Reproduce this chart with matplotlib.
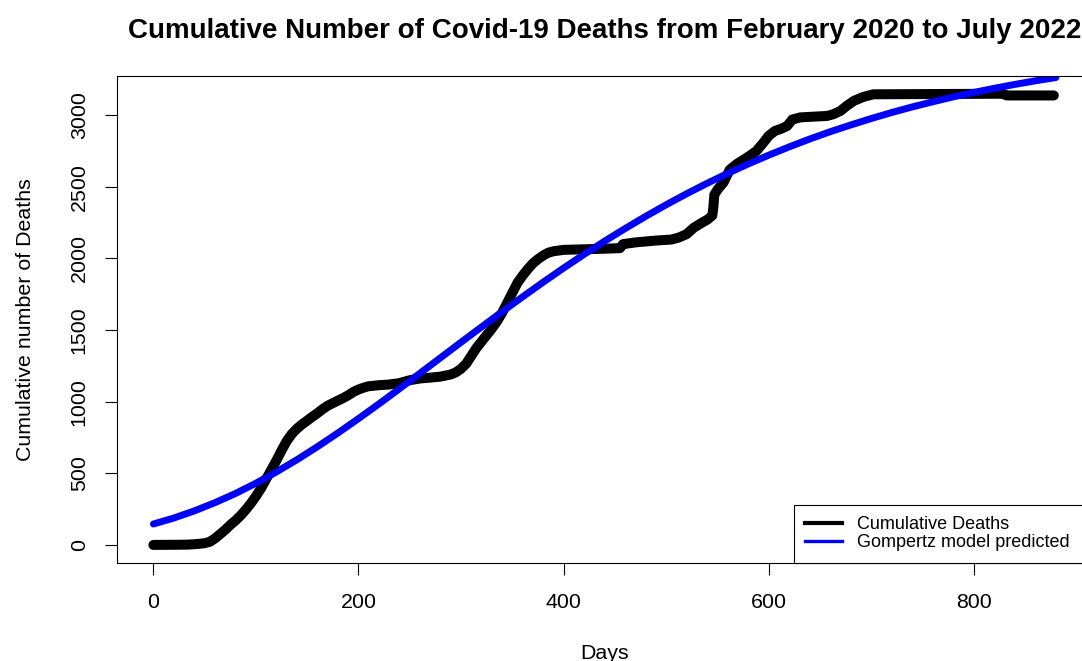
import matplotlib.pyplot as plt
from matplotlib.lines import Line2D

plt.rcParams['font.family'] = ['Liberation Sans', 'DejaVu Sans']

# observed cumulative deaths (day since first case, deaths)
days = [0, 20, 33, 40, 45, 50, 55, 60, 65, 70, 75, 80, 85, 90, 95, 100, 105,
        110, 115, 120, 125, 130, 135, 140, 145, 150, 155, 160, 165, 170, 175,
        180, 185, 190, 195, 200, 205, 210, 220, 230, 240, 250, 260, 270, 280,
        290, 295, 300, 305, 310, 315, 320, 325, 330, 335, 340, 345, 350, 355,
        360, 365, 370, 375, 380, 385, 390, 400, 420, 440, 455, 458, 470, 490,
        505, 512, 520, 527, 535, 540, 545, 546, 547, 550, 556, 562, 569, 579,
        588, 595, 600, 606, 612, 618, 623, 631, 657, 663, 670, 676, 683, 692,
        702, 828, 832, 878]
deaths = [0, 1, 2, 5, 8, 12, 22, 45, 75, 105, 140, 170, 205, 245, 290, 340, 395,
          460, 525, 590, 660, 725, 775, 812, 842, 868, 895, 920, 948, 972, 990,
          1008, 1025, 1045, 1068, 1085, 1098, 1108, 1115, 1120, 1130, 1150, 1162,
          1168, 1175, 1190, 1205, 1230, 1265, 1320, 1375, 1420, 1465, 1510, 1560,
          1620, 1690, 1760, 1830, 1880, 1925, 1965, 1995, 2020, 2040, 2050, 2060,
          2064, 2068, 2072, 2100, 2112, 2125, 2132, 2145, 2170, 2215, 2250, 2270,
          2300, 2357, 2445, 2480, 2531, 2620, 2660, 2705, 2750, 2810, 2856, 2890,
          2905, 2925, 2970, 2985, 2995, 3007, 3030, 3065, 3100, 3127, 3146, 3150,
          3138, 3138]

# Gompertz model fitted values
model_days = [0, 20, 40, 60, 80, 100, 120, 140, 160, 180, 200, 220, 240, 260,
              280, 300, 320, 340, 360, 380, 400, 420, 440, 460, 480, 500, 520,
              540, 560, 580, 600, 620, 640, 660, 680, 700, 720, 740, 760, 780,
              800, 820, 840, 860, 880]
model_deaths = [146, 188, 238, 295, 359, 431, 510, 595, 686, 782, 882, 985,
                1091, 1199, 1307, 1415, 1522, 1628, 1732, 1834, 1933, 2029,
                2121, 2209, 2294, 2375, 2452, 2525, 2594, 2660, 2721, 2779,
                2834, 2885, 2932, 2977, 3019, 3058, 3094, 3128, 3159, 3188,
                3215, 3240, 3263]

fig = plt.figure(figsize=(10.82, 6.61), dpi=100)
ax = fig.add_axes([0.1084, 0.1483, 0.9008, 0.7372])

ax.plot(days, deaths, color='black', lw=7.2,
        solid_capstyle='round', solid_joinstyle='round')
ax.plot(model_days, model_deaths, color='blue', lw=5,
        solid_capstyle='round', solid_joinstyle='round')

ax.set_xlim(-35.2, 915.2)
ax.set_ylim(-126, 3276)
ax.set_xticks([0, 200, 400, 600, 800])
ax.set_yticks([0, 500, 1000, 1500, 2000, 2500, 3000])
ax.tick_params(length=8.6, width=0.8, labelsize=15.4, colors='black')
ax.tick_params(axis='x', pad=13)
ax.tick_params(axis='y', pad=12, labelrotation=90)
for lab in ax.get_yticklabels():
    lab.set_va('center')
for sp in ax.spines.values():
    sp.set_linewidth(0.8)
    sp.set_color('black')

ax.set_xlabel('Days', fontsize=15.4, labelpad=23)
ax.set_ylabel('Cumulative number of Deaths', fontsize=15.4, labelpad=25)
ax.set_title('Cumulative Number of Covid-19 Deaths from February 2020 to July 2022',
             fontsize=20, fontweight='bold', pad=27)

# legend box spans from its left edge to the right side of the plot
handles = [Line2D([], [], color='black', lw=3),
           Line2D([], [], color='blue', lw=2.4)]
leg = ax.legend(handles, ['Cumulative Deaths', 'Gompertz model predicted'],
                loc='lower left', bbox_to_anchor=(0.694, 0.0, 0.306, 0.2),
                mode='expand', fontsize=13, fancybox=False, framealpha=1,
                edgecolor='black', borderaxespad=0, borderpad=0.65,
                labelspacing=0.05, handlelength=2.0, handletextpad=0.85)
leg.get_frame().set_linewidth(0.8)

fig.savefig('out.png', dpi=100)
